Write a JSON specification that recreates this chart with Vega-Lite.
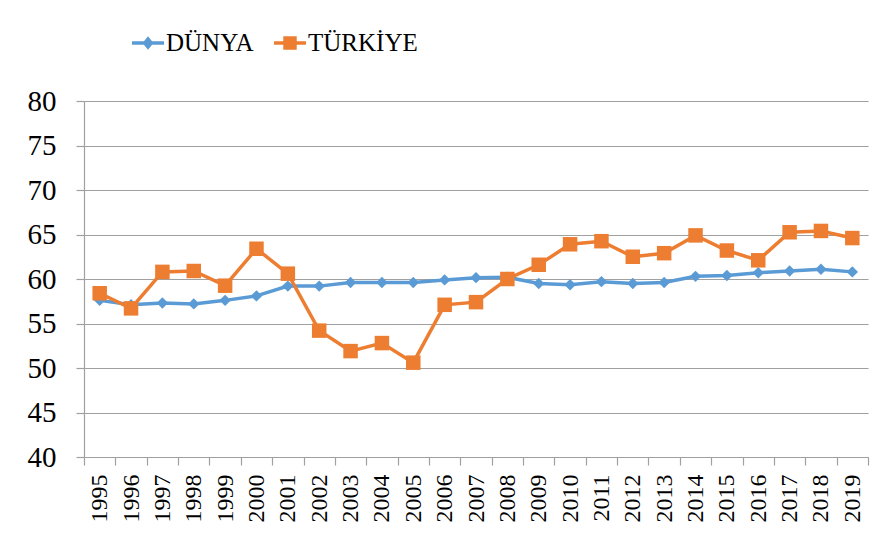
{
  "$schema": "https://vega.github.io/schema/vega-lite/v6.json",
  "autosize": {"type": "none"},
  "width": 784,
  "height": 356,
  "padding": {"left": 84, "top": 101, "right": 18, "bottom": 87},
  "background": "white",
  "config": {
    "view": {"stroke": null},
    "font": "Liberation Serif",
    "axis": {"labelColor": "#000000", "domainColor": "#a0a0a0", "tickColor": "#a0a0a0", "gridColor": "#a0a0a0", "domainWidth": 1.2, "tickWidth": 1.2, "gridWidth": 1.2}
  },
  "data": {"values": [
    {"year": "1995", "series": "DÜNYA", "value": 57.6},
    {"year": "1996", "series": "DÜNYA", "value": 57.1},
    {"year": "1997", "series": "DÜNYA", "value": 57.3},
    {"year": "1998", "series": "DÜNYA", "value": 57.2},
    {"year": "1999", "series": "DÜNYA", "value": 57.6},
    {"year": "2000", "series": "DÜNYA", "value": 58.1},
    {"year": "2001", "series": "DÜNYA", "value": 59.2},
    {"year": "2002", "series": "DÜNYA", "value": 59.2},
    {"year": "2003", "series": "DÜNYA", "value": 59.6},
    {"year": "2004", "series": "DÜNYA", "value": 59.6},
    {"year": "2005", "series": "DÜNYA", "value": 59.6},
    {"year": "2006", "series": "DÜNYA", "value": 59.9},
    {"year": "2007", "series": "DÜNYA", "value": 60.15},
    {"year": "2008", "series": "DÜNYA", "value": 60.2},
    {"year": "2009", "series": "DÜNYA", "value": 59.5},
    {"year": "2010", "series": "DÜNYA", "value": 59.35},
    {"year": "2011", "series": "DÜNYA", "value": 59.7},
    {"year": "2012", "series": "DÜNYA", "value": 59.5},
    {"year": "2013", "series": "DÜNYA", "value": 59.6},
    {"year": "2014", "series": "DÜNYA", "value": 60.3},
    {"year": "2015", "series": "DÜNYA", "value": 60.4},
    {"year": "2016", "series": "DÜNYA", "value": 60.7},
    {"year": "2017", "series": "DÜNYA", "value": 60.9},
    {"year": "2018", "series": "DÜNYA", "value": 61.1},
    {"year": "2019", "series": "DÜNYA", "value": 60.8},
    {"year": "1995", "series": "TÜRKİYE", "value": 58.4},
    {"year": "1996", "series": "TÜRKİYE", "value": 56.7},
    {"year": "1997", "series": "TÜRKİYE", "value": 60.8},
    {"year": "1998", "series": "TÜRKİYE", "value": 60.9},
    {"year": "1999", "series": "TÜRKİYE", "value": 59.25},
    {"year": "2000", "series": "TÜRKİYE", "value": 63.4},
    {"year": "2001", "series": "TÜRKİYE", "value": 60.6},
    {"year": "2002", "series": "TÜRKİYE", "value": 54.2},
    {"year": "2003", "series": "TÜRKİYE", "value": 51.9},
    {"year": "2004", "series": "TÜRKİYE", "value": 52.8},
    {"year": "2005", "series": "TÜRKİYE", "value": 50.6},
    {"year": "2006", "series": "TÜRKİYE", "value": 57.1},
    {"year": "2007", "series": "TÜRKİYE", "value": 57.4},
    {"year": "2008", "series": "TÜRKİYE", "value": 60.0},
    {"year": "2009", "series": "TÜRKİYE", "value": 61.6},
    {"year": "2010", "series": "TÜRKİYE", "value": 63.9},
    {"year": "2011", "series": "TÜRKİYE", "value": 64.25},
    {"year": "2012", "series": "TÜRKİYE", "value": 62.5},
    {"year": "2013", "series": "TÜRKİYE", "value": 62.9},
    {"year": "2014", "series": "TÜRKİYE", "value": 64.9},
    {"year": "2015", "series": "TÜRKİYE", "value": 63.2},
    {"year": "2016", "series": "TÜRKİYE", "value": 62.1},
    {"year": "2017", "series": "TÜRKİYE", "value": 65.25},
    {"year": "2018", "series": "TÜRKİYE", "value": 65.4},
    {"year": "2019", "series": "TÜRKİYE", "value": 64.6}
  ]},
  "encoding": {
    "x": {"field": "year", "type": "ordinal",
      "scale": {"type": "band", "paddingInner": 0, "paddingOuter": 0},
      "axis": {"title": null, "labelAngle": -90, "labelFont": "Liberation Serif", "labelFontSize": 24, "tickBand": "extent", "tickSize": 8, "labelPadding": 9, "grid": false}},
    "y": {"field": "value", "type": "quantitative",
      "scale": {"domain": [40, 80], "nice": false, "zero": false},
      "axis": {"title": null, "values": [40, 45, 50, 55, 60, 65, 70, 75, 80], "labelFont": "Liberation Serif", "labelFontSize": 29, "tickSize": 8, "labelPadding": 20, "grid": true}},
    "color": {"field": "series", "type": "nominal",
      "scale": {"domain": ["DÜNYA", "TÜRKİYE"], "range": ["#5B9BD5", "#ED7D31"]},
      "legend": {
        "title": null, "orient": "none", "direction": "horizontal",
        "legendX": 48, "legendY": -74,
        "symbolSize": 1024, "symbolOpacity": 1, "symbolStrokeWidth": 0,
        "labelFont": "Liberation Serif", "labelFontSize": 25, "labelColor": "#000000", "labelOffset": 2,
        "columnPadding": 20,
        "encode": {"symbols": {"update": {
          "shape": {"signal": "datum.value === 'DÜNYA' ? 'M-1,-0.11H1V0.11H-1Z M0,-0.42L0.34,0L0,0.42L-0.34,0Z' : 'M-1,-0.11H1V0.11H-1Z M-0.42,-0.42H0.42V0.42H-0.42Z'"},
          "fill": {"scale": "color", "field": "value"},
          "stroke": {"value": "transparent"},
          "strokeWidth": {"value": 0},
          "opacity": {"value": 1}
        }}}
      }
    }
  },
  "layer": [
    {
      "mark": {"type": "line", "strokeWidth": 3.5}
    },
    {
      "transform": [{"filter": "datum.series === 'DÜNYA'"}],
      "mark": {"type": "point", "shape": "diamond", "filled": true, "opacity": 1, "size": 130}
    },
    {
      "transform": [{"filter": "datum.series === 'TÜRKİYE'"}],
      "mark": {"type": "point", "shape": "square", "filled": true, "opacity": 1, "size": 210}
    }
  ]
}
